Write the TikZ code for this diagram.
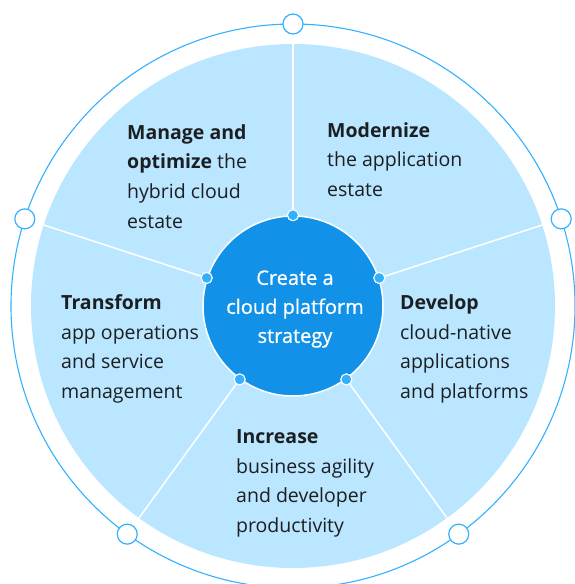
\documentclass[tikz,border=0pt]{standalone}
\usepackage{fontspec}
\setmainfont{Open Sans}
\newfontfamily\titlefont[FakeBold=0.8]{Open Sans}
\usetikzlibrary{positioning}
\definecolor{paleblue}{HTML}{BAE6FF}
\definecolor{ringblue}{HTML}{33B1FF}
\definecolor{coreblue}{HTML}{1192E8}
\definecolor{ink}{HTML}{1C1F22}
\tikzset{core/.style={circle,draw=white,line width=1.5pt,fill=coreblue,minimum size=180pt,inner sep=0pt}}
\tikzset{title/.style={inner sep=0pt,text=white,align=center,font=\titlefont\fontsize{20}{29}\selectfont}}
\tikzset{ringdot/.style={circle,draw=ringblue,line width=1.2pt,fill=white,minimum size=20pt,inner sep=0pt}}
\tikzset{hubdot/.style={circle,draw=white,line width=1pt,fill=ringblue,minimum size=11pt,inner sep=0pt}}
\tikzset{divider/.style={draw=white,line width=1.5pt}}
\tikzset{blurb/.style={anchor=base west,inner sep=0pt,align=left,text=ink,font=\fontsize{19.5}{29.5}\selectfont}}

\begin{document}
\begin{tikzpicture}[x=1pt,y=1pt]
    \useasboundingbox (-293,-278) rectangle (281,306);
    \fill[paleblue] (0,0) circle (262);
    \draw[ringblue,line width=1.1pt] (0,0) circle (282);

    \node[core] (core) at (0,0) {};
    \node[title] (goal) at ([shift={(2,-3)}]core.center) {Create a\\cloud platform\\strategy};

    \foreach \a [count=\i] in {90,162,234,306,18} {
        \coordinate (rim\i) at (\a:262);
        \node[hubdot] (hub\i) at (core.\a) {};
        \path[divider] (hub\i) -- (rim\i);
        \node[hubdot] at (core.\a) {};
        \node[ringdot] (dot\i) at (\a:282) {};
    }

    % base anchor sits on the last line
    \node[blurb] (manage) at (-166,78) {\textbf{Manage and}\\\textbf{optimize} the\\hybrid cloud\\estate};
    \node[blurb] (modern) at (34,110) {\textbf{Modernize}\\the application\\estate};
    \node[blurb] (transform) at (-232,-92) {\textbf{Transform}\\app operations\\and service\\management};
    \node[blurb] (develop) at (107,-92) {\textbf{Develop}\\cloud-native\\applications\\and platforms};
    \node[blurb] (increase) at (-57,-226) {\textbf{Increase}\\business agility\\and developer\\productivity};
\end{tikzpicture}
\end{document}
